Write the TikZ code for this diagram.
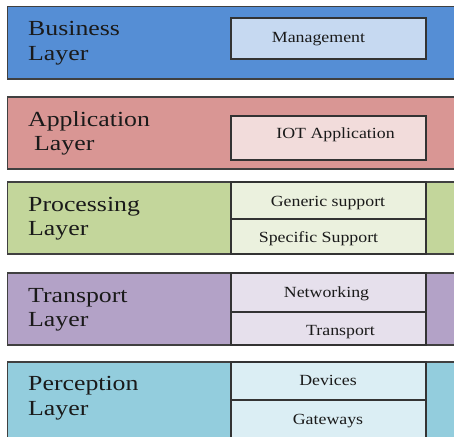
\documentclass[tikz,border=0pt]{standalone}
\usepackage{fontspec}
\setmainfont{Liberation Serif}
\newfontfamily\bigf[FakeStretch=1.2]{Liberation Serif}
\newfontfamily\smallf[FakeStretch=1.15]{Liberation Serif}
\definecolor{bordergray}{HTML}{404040}
\definecolor{celldark}{HTML}{333333}
\definecolor{bizfill}{HTML}{558ED5}
\definecolor{bizcell}{HTML}{C6D9F1}
\definecolor{appfill}{HTML}{D99694}
\definecolor{appcell}{HTML}{F2DCDB}
\definecolor{procfill}{HTML}{C3D69B}
\definecolor{proccell}{HTML}{EBF1DE}
\definecolor{transfill}{HTML}{B3A2C7}
\definecolor{transcell}{HTML}{E6E0EC}
\definecolor{percfill}{HTML}{93CDDD}
\definecolor{perccell}{HTML}{DBEEF4}
\definecolor{txt}{HTML}{1A1A1A}
\begin{document}
\begin{tikzpicture}[x=1pt,y=-1pt,
  layer/.style={draw=bordergray, line width=1.1pt},
  cell/.style={draw=celldark, line width=1.3pt},
  big/.style={font=\bigf\fontsize{21.5}{24}\selectfont, anchor=base west, inner sep=0pt, text=txt},
  small/.style={font=\smallf\fontsize{15.5}{18}\selectfont, anchor=base, inner sep=0pt, text=txt}]
\useasboundingbox (0,0) rectangle (454,436);
\clip (0,0) rectangle (454,436);
% Business
\path[layer, fill=bizfill] (7.5,6.5) rectangle (470,79);
\path[cell, fill=bizcell] (231,18) rectangle (426,59);
\node[big] (biz1) at (28,36) {Business};
\node[big] (biz2) at (28,60) {Layer};
\node[small] (mgmt) at (318.5,42) {Management};
% Application
\path[layer, fill=appfill] (7.5,97) rectangle (470,169);
\path[cell, fill=appcell] (231,116) rectangle (426,160);
\node[big] (app1) at (28,126.5) {Application};
\node[big] (app2) at (34,150) {Layer};
\node[small] (iot) at (335.5,138.5) {IOT Application};
% Processing
\path[layer, fill=procfill] (7.5,182) rectangle (470,254);
\path[cell, fill=proccell] (231,182) rectangle (426,219);
\path[cell, fill=proccell] (231,219) rectangle (426,254);
\node[big] (proc1) at (28,211.5) {Processing};
\node[big] (proc2) at (28,235) {Layer};
\node[small] (gen) at (328,206) {Generic support};
\node[small] (spec) at (318.5,242.5) {Specific Support};
% Transport
\path[layer, fill=transfill] (7.5,273) rectangle (470,345);
\path[cell, fill=transcell] (231,273) rectangle (426,312);
\path[cell, fill=transcell] (231,312) rectangle (426,345);
\node[big] (tr1) at (28,302) {Transport};
\node[big] (tr2) at (28,326) {Layer};
\node[small] (net) at (326.5,297.5) {Networking};
\node[small] (trn) at (340.5,335.5) {Transport};
% Perception
\path[layer, fill=percfill] (7.5,362) rectangle (470,460);
\path[cell, fill=perccell] (231,362) rectangle (426,400);
\path[cell, fill=perccell] (231,400) rectangle (426,460);
\node[big] (per1) at (28,390.5) {Perception};
\node[big] (per2) at (28,415) {Layer};
\node[small] (dev) at (328,385) {Devices};
\node[small] (gw) at (328,424) {Gateways};
\end{tikzpicture}
\end{document}
